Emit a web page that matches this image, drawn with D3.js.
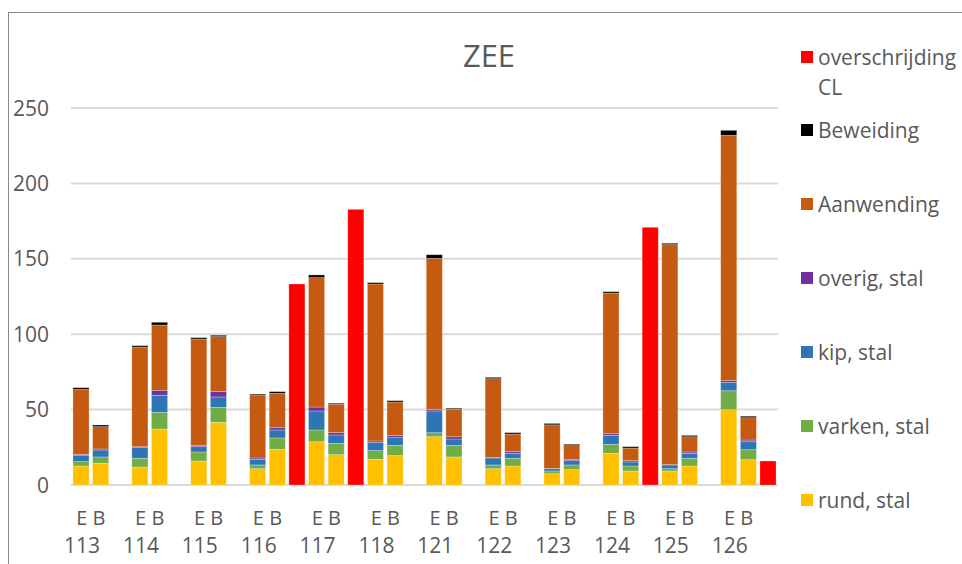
<!DOCTYPE html>
<html>
<head>
<meta charset="utf-8">
<script src="https://cdn.jsdelivr.net/npm/d3@7"></script>
<style>
  body { margin: 0; background: #fff; }
  svg text { font-family: "Open Sans", Lato, sans-serif; fill: #595959; }
</style>
</head>
<body>
<script>
// groups (areas), each has an E and a B bar plus a slot for the red exceedance bar
const groups = ["113", "114", "115", "116", "117", "118", "121", "122", "123", "124", "125", "126"];
const kinds = ["E", "B"];

// segment heights, order: 113E,113B,114E,114B,...
const rund = [12.6, 14.4, 11.9, 37.1, 15.9, 41.6, 10.8, 23.7, 28.7, 20.1, 17.0, 19.5,
              32.0, 18.6, 10.8, 12.6, 7.5, 10.2, 21.0, 9.3, 9.3, 12.6, 49.9, 16.8];
const varken = [2.9, 4.2, 5.8, 11.1, 6.0, 9.9, 2.5, 7.5, 7.8, 7.5, 5.8, 6.8,
                2.7, 7.7, 2.5, 5.1, 1.8, 3.1, 6.0, 3.3, 1.5, 5.1, 12.6, 6.6];
const kip = [4.0, 4.6, 7.1, 11.3, 3.5, 6.9, 3.7, 5.3, 12.6, 5.6, 5.5, 5.1,
             14.4, 4.2, 4.6, 3.3, 1.5, 2.8, 5.9, 2.7, 2.5, 3.3, 5.6, 5.3];
const overig = [0.8, 0.7, 0.6, 3.3, 0.9, 3.5, 0.9, 1.5, 2.6, 1.5, 0.9, 1.5,
                1.1, 1.5, 0.4, 1.1, 0.2, 0.9, 1.1, 0.8, 0.2, 0.9, 1.1, 1.1];
const aanwending = [43.1, 14.8, 66.1, 43.3, 70.5, 36.5, 41.8, 22.8, 85.8, 18.8, 104.1, 22.1,
                    100.1, 18.2, 52.2, 11.7, 28.9, 9.1, 93.3, 8.4, 145.9, 10.1, 162.7, 14.8];
const beweiding = [1.1, 1.1, 0.9, 1.8, 0.9, 0.9, 0.6, 1.1, 1.8, 0.7, 0.9, 0.9,
                   2.4, 0.7, 0.9, 0.9, 0.9, 0.9, 0.9, 0.9, 0.9, 0.9, 3.3, 1.0];
// overschrijding CL per group (0 = none)
const overschrijding = [0, 0, 0, 133.3, 182.8, 0, 0, 0, 0, 170.9, 0, 15.9];

const yTicks = [0, 50, 100, 150, 200, 250];

const seriesKeys = ["rund", "varken", "kip", "overig", "aanwending", "beweiding"];
const seriesLabels = ["rund, stal", "varken, stal", "kip, stal", "overig, stal", "Aanwending", "Beweiding"];
const seriesColors = ["#FFC000", "#70AD47", "#2E75B6", "#7030A0", "#C55A11", "#000000"];
const redColor = "#FF0000";

const width = 962, height = 564;

let svg = d3.select("body").append("svg")
  .attr("width", width)
  .attr("height", height);

// chart border (only left + top visible in the picture)
svg.append("rect")
  .attr("x", 8.5).attr("y", 12.5)
  .attr("width", width + 20).attr("height", height + 20)
  .attr("fill", "none")
  .attr("stroke", "#8a8a8a")
  .attr("stroke-width", 1);

// slots: for every group E, B and X (red one)
let slots = [];
groups.forEach(g => { slots.push(g + "E"); slots.push(g + "B"); slots.push(g + "X"); });

let x = d3.scaleBand()
  .domain(slots)
  .range([71, 778])
  .paddingInner(0.18)
  .paddingOuter(0.1);

let y = d3.scaleLinear()
  .domain([0, 250])
  .range([485, 108]);

// gridlines
svg.append("g").selectAll("line")
  .data(yTicks)
  .join("line")
  .attr("x1", 71).attr("x2", 778)
  .attr("y1", d => y(d)).attr("y2", d => y(d))
  .attr("stroke", "#d9d9d9")
  .attr("stroke-width", 2);

// y tick labels
svg.append("g").selectAll("text")
  .data(yTicks)
  .join("text")
  .attr("x", 49)
  .attr("y", d => y(d))
  .attr("dy", "0.36em")
  .attr("text-anchor", "end")
  .style("font-size", "21px")
  .text(d => d);

// build rows for stacking
let rows = [];
groups.forEach((g, gi) => {
  kinds.forEach((k, ki) => {
    let i = gi * 2 + ki;
    rows.push({
      slot: g + k,
      rund: rund[i], varken: varken[i], kip: kip[i],
      overig: overig[i], aanwending: aanwending[i], beweiding: beweiding[i]
    });
  });
});

let stacked = d3.stack().keys(seriesKeys)(rows);

svg.append("g").selectAll("g")
  .data(stacked)
  .join("g")
  .attr("fill", (d, i) => seriesColors[i])
  .selectAll("rect")
  .data(d => d)
  .join("rect")
  .attr("x", d => x(d.data.slot))
  .attr("width", x.bandwidth())
  .attr("y", d => y(d[1]))
  .attr("height", d => y(d[0]) - y(d[1]))
  .attr("stroke", "#ffffff")
  .attr("stroke-opacity", 0.35)
  .attr("stroke-width", 0.75);

// red exceedance bars
svg.append("g").selectAll("rect")
  .data(groups.map((g, i) => ({ slot: g + "X", v: overschrijding[i] })).filter(d => d.v > 0))
  .join("rect")
  .attr("x", d => x(d.slot))
  .attr("width", x.bandwidth())
  .attr("y", d => y(d.v))
  .attr("height", d => y(0) - y(d.v))
  .attr("fill", redColor)
  .attr("stroke", "#ffffff")
  .attr("stroke-opacity", 0.35)
  .attr("stroke-width", 0.75);

// category labels
let cat = svg.append("g").selectAll("g")
  .data(groups)
  .join("g");
cat.append("text")
  .attr("x", g => (x(g + "E") + x(g + "B") + x.bandwidth()) / 2)
  .attr("y", 525)
  .attr("text-anchor", "middle")
  .style("font-size", "20px")
  .text("E B");
cat.append("text")
  .attr("x", g => x(g + "E") + x.bandwidth() / 2 + 1)
  .attr("y", 553)
  .attr("text-anchor", "middle")
  .style("font-size", "21px")
  .text(g => g);

// title
svg.append("text")
  .attr("x", 489)
  .attr("y", 67)
  .attr("text-anchor", "middle")
  .style("font-size", "31px")
  .text("ZEE");

// legend
let legendItems = seriesKeys.map((k, i) => ({ label: seriesLabels[i], color: seriesColors[i] })).reverse();
let ly = d3.scalePoint().domain(legendItems.map(d => d.label)).range([130, 500]);

let lg = svg.append("g");
lg.append("rect")
  .attr("x", 801).attr("y", 57 - 6)
  .attr("width", 12).attr("height", 12)
  .attr("fill", redColor);
lg.append("text")
  .attr("x", 818).attr("y", 57)
  .attr("dy", "0.36em")
  .style("font-size", "21px")
  .text("overschrijding");
lg.append("text")
  .attr("x", 818).attr("y", 87)
  .attr("dy", "0.36em")
  .style("font-size", "21px")
  .text("CL");

let li = lg.selectAll("g.item")
  .data(legendItems)
  .join("g")
  .attr("class", "item")
  .attr("transform", d => "translate(801," + ly(d.label) + ")");
li.append("rect")
  .attr("y", -6)
  .attr("width", 12).attr("height", 12)
  .attr("fill", d => d.color);
li.append("text")
  .attr("x", 17)
  .attr("dy", "0.36em")
  .style("font-size", "21px")
  .text(d => d.label);
</script>
</body>
</html>
